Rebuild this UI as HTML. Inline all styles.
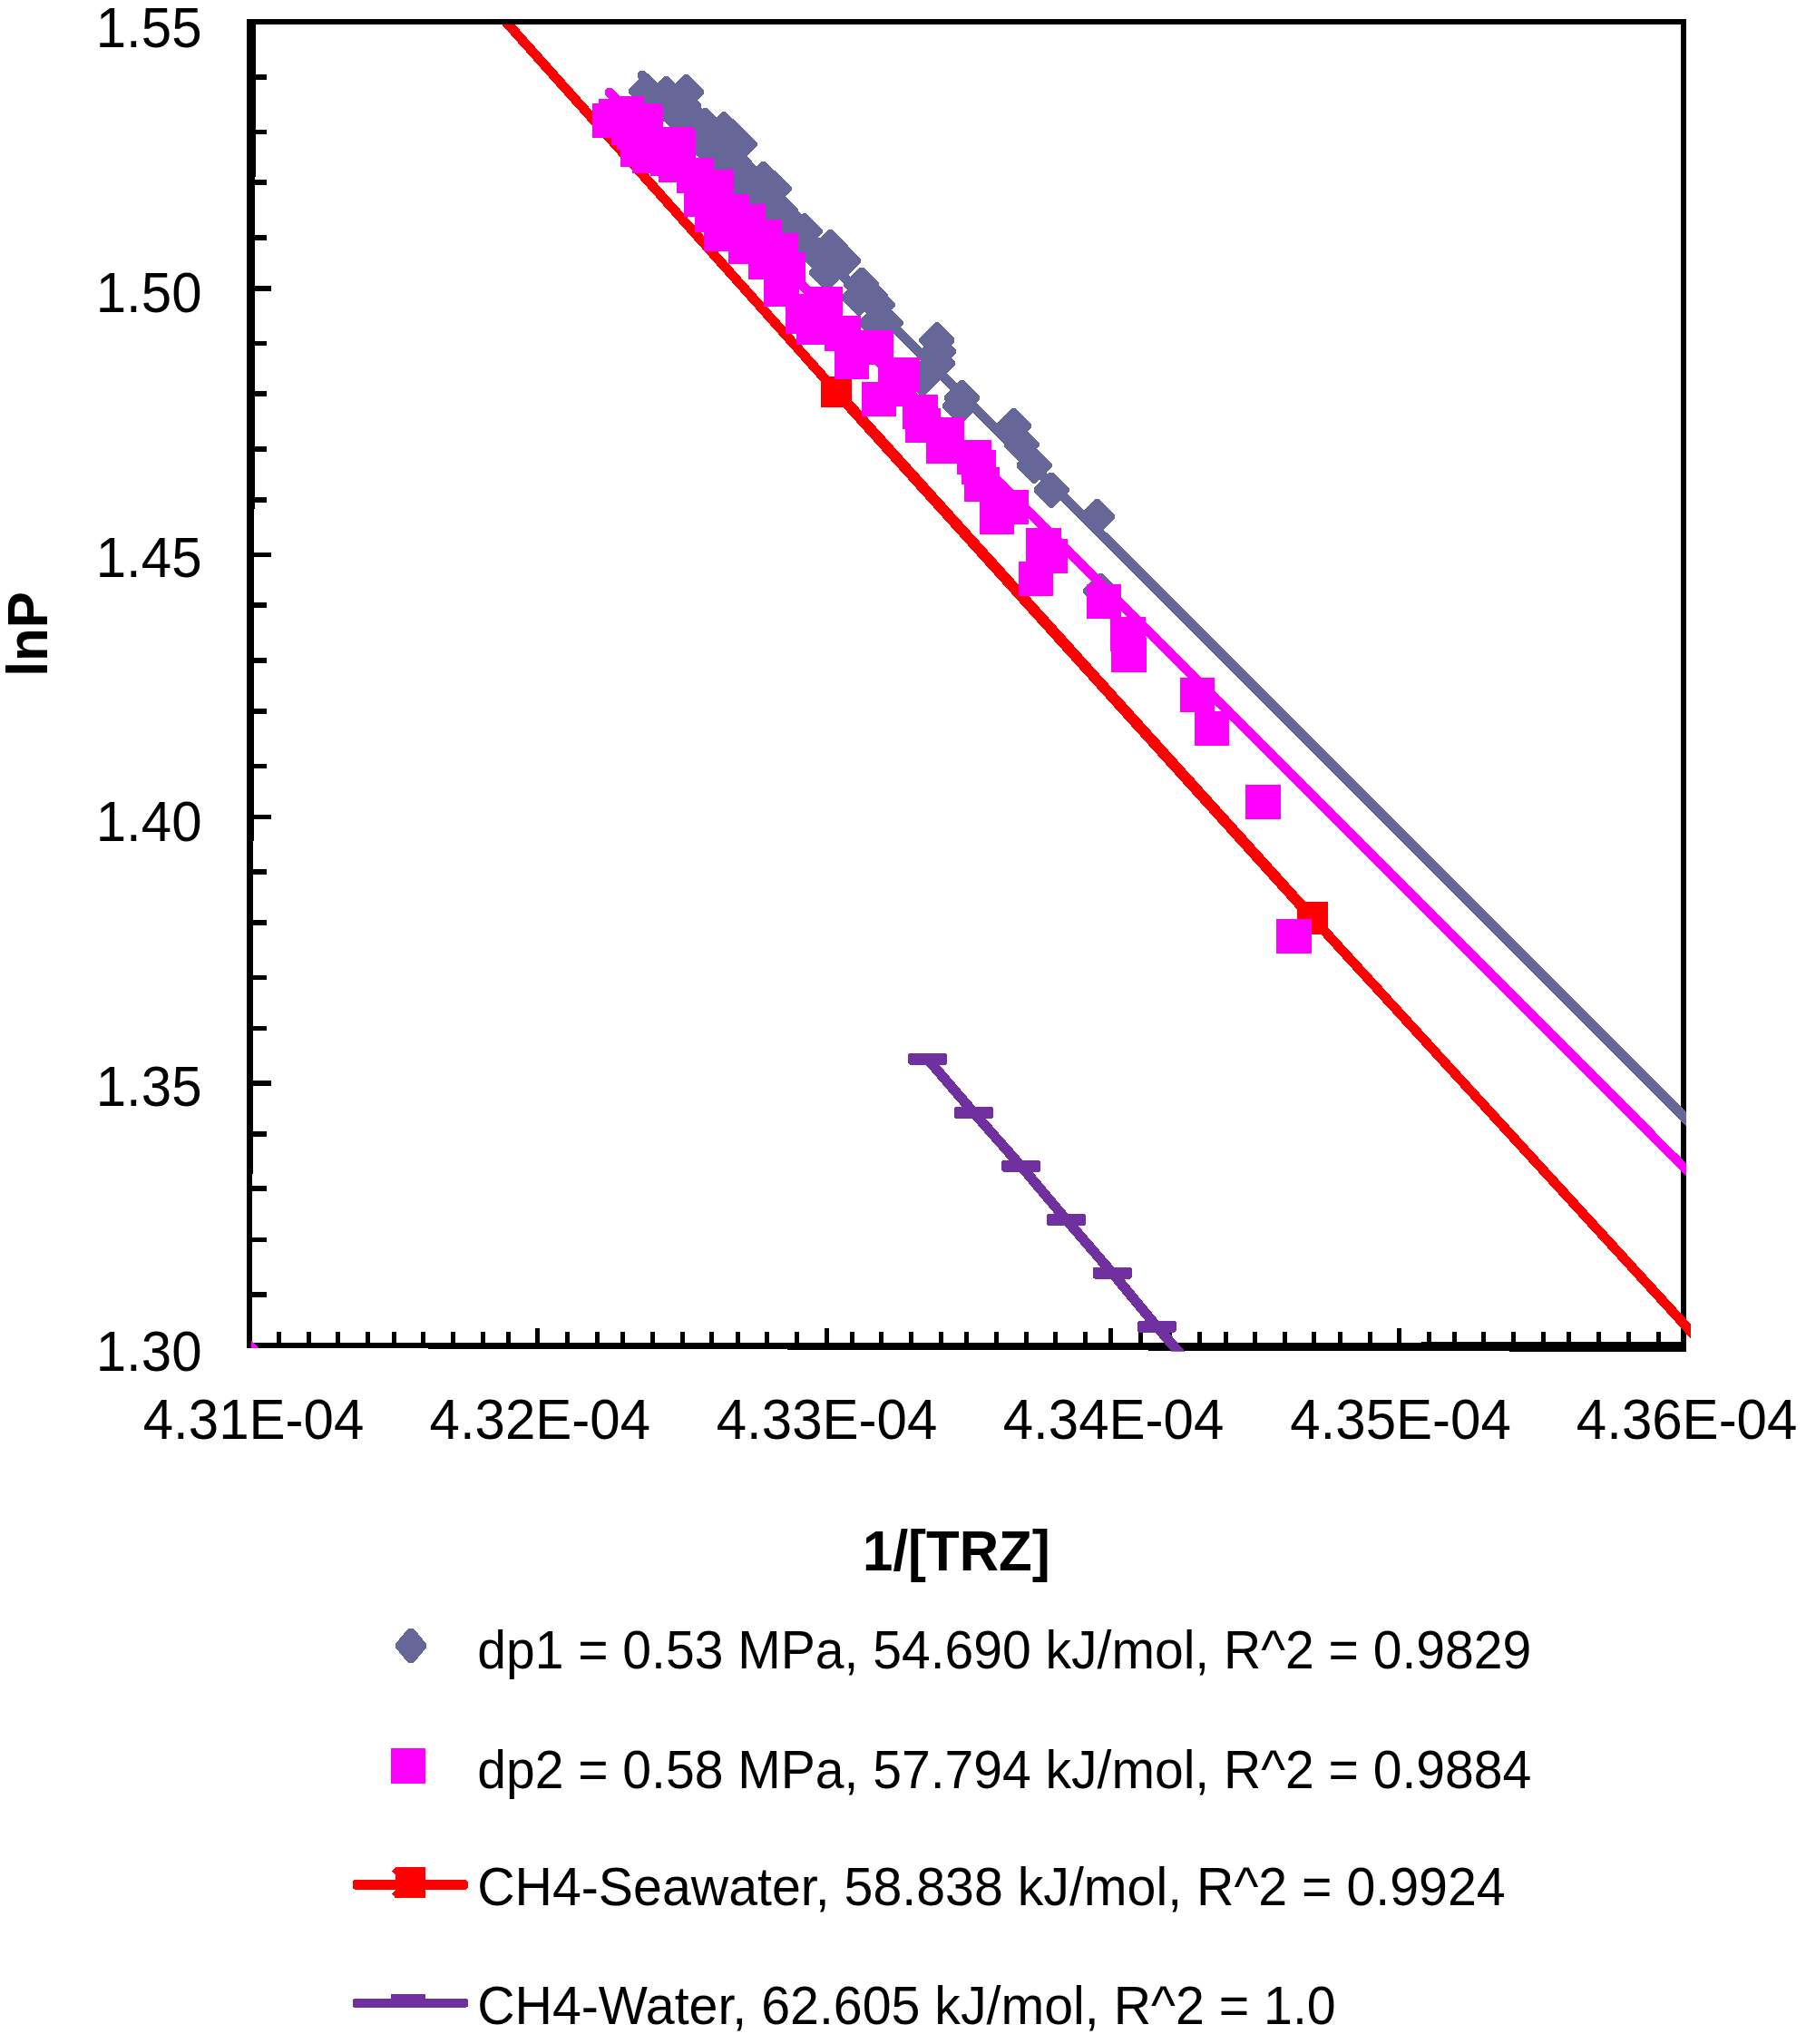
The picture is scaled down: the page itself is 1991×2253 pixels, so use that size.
<!DOCTYPE html>
<html lang="en"><head><meta charset="utf-8"><title>lnP vs 1/[TRZ]</title>
<style>html,body{margin:0;padding:0;background:#fff}svg{display:block}text{font-family:"Liberation Sans",Arial,sans-serif;fill:#000}.ax{font-size:60px}.lg{font-size:56.5px}.b{font-weight:bold;font-size:60px}</style></head><body>
<svg width="1991" height="2253" viewBox="0 0 1991 2253" shape-rendering="crispEdges">
<rect width="1991" height="2253" fill="#fff"/>
<defs><clipPath id="pc"><rect x="272" y="21" width="1592" height="1468.6"/></clipPath><clipPath id="pc2"><rect x="272" y="21" width="1587" height="1468.6"/></clipPath></defs>
<g id="series" clip-path="url(#pc)">
<line x1="550.2" y1="15.6" x2="922" y2="431.5" stroke="#FF0000" stroke-width="10.8"/>
<line x1="922" y1="431.5" x2="1447" y2="1011.9" stroke="#FF0000" stroke-width="12.3"/>
<line x1="1447" y1="1011.9" x2="1880" y2="1485" stroke="#FF0000" stroke-width="10.8"/>
<rect x="905.0" y="414.5" width="34" height="34" fill="#FF0000"/>
<rect x="1430.0" y="993.9" width="34" height="36" fill="#FF0000"/>
<line x1="708" y1="83" x2="1879" y2="1253.5" stroke="#666699" stroke-width="11" stroke-linecap="round" clip-path="url(#pc2)"/>
<polyline points="745,118 775,150 800,175 826,205 845,225 852,248 872,265" fill="none" stroke="#666699" stroke-width="40" stroke-linejoin="round"/>
<path d="M693.1 98.8L710.6 81.3L714.6 81.3L732.1 98.8L732.1 102.8L714.6 120.3L710.6 120.3L693.1 102.8Z" fill="#666699"/>
<path d="M715.3 101.6L732.8 84.1L736.8 84.1L754.3 101.6L754.3 105.6L736.8 123.1L732.8 123.1L715.3 105.6Z" fill="#666699"/>
<path d="M737.0 99.5L754.5 82.0L758.5 82.0L776.0 99.5L776.0 103.5L758.5 121.0L754.5 121.0L737.0 103.5Z" fill="#666699"/>
<path d="M733.9 114.8L751.4 97.3L755.4 97.3L772.9 114.8L772.9 118.8L755.4 136.3L751.4 136.3L733.9 118.8Z" fill="#666699"/>
<path d="M757.9 136.3L775.4 118.8L779.4 118.8L796.9 136.3L796.9 140.3L779.4 157.8L775.4 157.8L757.9 140.3Z" fill="#666699"/>
<path d="M778.6 140.7L796.1 123.2L800.1 123.2L817.6 140.7L817.6 144.7L800.1 162.2L796.1 162.2L778.6 144.7Z" fill="#666699"/>
<path d="M787.0 148.9L804.5 131.4L808.5 131.4L826.0 148.9L826.0 152.9L808.5 170.4L804.5 170.4L787.0 152.9Z" fill="#666699"/>
<path d="M795.7 156.8L813.2 139.3L817.2 139.3L834.7 156.8L834.7 160.8L817.2 178.3L813.2 178.3L795.7 160.8Z" fill="#666699"/>
<path d="M766.7 161.0L784.2 143.5L788.2 143.5L805.7 161.0L805.7 165.0L788.2 182.5L784.2 182.5L766.7 165.0Z" fill="#666699"/>
<path d="M822.3 195.4L839.8 177.9L843.8 177.9L861.3 195.4L861.3 199.4L843.8 216.9L839.8 216.9L822.3 199.4Z" fill="#666699"/>
<path d="M833.6 205.8L851.1 188.3L855.1 188.3L872.6 205.8L872.6 209.8L855.1 227.3L851.1 227.3L833.6 209.8Z" fill="#666699"/>
<path d="M840.8 230.8L858.3 213.3L862.3 213.3L879.8 230.8L879.8 234.8L862.3 252.3L858.3 252.3L840.8 234.8Z" fill="#666699"/>
<path d="M867.5 252.7L885.0 235.2L889.0 235.2L906.5 252.7L906.5 256.7L889.0 274.2L885.0 274.2L867.5 256.7Z" fill="#666699"/>
<path d="M895.8 270.5L913.3 253.0L917.3 253.0L934.8 270.5L934.8 274.5L917.3 292.0L913.3 292.0L895.8 274.5Z" fill="#666699"/>
<path d="M892.0 298.3L909.5 280.8L913.5 280.8L931.0 298.3L931.0 302.3L913.5 319.8L909.5 319.8L892.0 302.3Z" fill="#666699"/>
<path d="M910.0 285.6L927.5 268.1L931.5 268.1L949.0 285.6L949.0 289.6L931.5 307.1L927.5 307.1L910.0 289.6Z" fill="#666699"/>
<path d="M930.3 312.0L947.8 294.5L951.8 294.5L969.3 312.0L969.3 316.0L951.8 333.5L947.8 333.5L930.3 316.0Z" fill="#666699"/>
<path d="M947.7 334.3L965.2 316.8L969.2 316.8L986.7 334.3L986.7 338.3L969.2 355.8L965.2 355.8L947.7 338.3Z" fill="#666699"/>
<path d="M956.6 354.2L974.1 336.7L978.1 336.7L995.6 354.2L995.6 358.2L978.1 375.7L974.1 375.7L956.6 358.2Z" fill="#666699"/>
<path d="M927.9 326.0L945.4 308.5L949.4 308.5L966.9 326.0L966.9 330.0L949.4 347.5L945.4 347.5L927.9 330.0Z" fill="#666699"/>
<path d="M946.3 354.3L963.8 336.8L967.8 336.8L985.3 354.3L985.3 358.3L967.8 375.8L963.8 375.8L946.3 358.3Z" fill="#666699"/>
<path d="M1013.3 372.9L1030.8 355.4L1034.8 355.4L1052.3 372.9L1052.3 376.9L1034.8 394.4L1030.8 394.4L1013.3 376.9Z" fill="#666699"/>
<path d="M1014.6 385.5L1032.1 368.0L1036.1 368.0L1053.6 385.5L1053.6 389.5L1036.1 407.0L1032.1 407.0L1014.6 389.5Z" fill="#666699"/>
<path d="M1013.8 398.8L1031.3 381.3L1035.3 381.3L1052.8 398.8L1052.8 402.8L1035.3 420.3L1031.3 420.3L1013.8 402.8Z" fill="#666699"/>
<path d="M1004.1 408.8L1021.6 391.3L1025.6 391.3L1043.1 408.8L1043.1 412.8L1025.6 430.3L1021.6 430.3L1004.1 412.8Z" fill="#666699"/>
<path d="M997.5 415.4L1015.0 397.9L1019.0 397.9L1036.5 415.4L1036.5 419.4L1019.0 436.9L1015.0 436.9L997.5 419.4Z" fill="#666699"/>
<path d="M1041.3 436.7L1058.8 419.2L1062.8 419.2L1080.3 436.7L1080.3 440.7L1062.8 458.2L1058.8 458.2L1041.3 440.7Z" fill="#666699"/>
<path d="M1039.3 445.6L1056.8 428.1L1060.8 428.1L1078.3 445.6L1078.3 449.6L1060.8 467.1L1056.8 467.1L1039.3 449.6Z" fill="#666699"/>
<path d="M1098.3 467.4L1115.8 449.9L1119.8 449.9L1137.3 467.4L1137.3 471.4L1119.8 488.9L1115.8 488.9L1098.3 471.4Z" fill="#666699"/>
<path d="M1106.6 487.8L1124.1 470.3L1128.1 470.3L1145.6 487.8L1145.6 491.8L1128.1 509.3L1124.1 509.3L1106.6 491.8Z" fill="#666699"/>
<path d="M1120.5 511.1L1138.0 493.6L1142.0 493.6L1159.5 511.1L1159.5 515.1L1142.0 532.6L1138.0 532.6L1120.5 515.1Z" fill="#666699"/>
<path d="M1139.9 538.1L1157.4 520.6L1161.4 520.6L1178.9 538.1L1178.9 542.1L1161.4 559.6L1157.4 559.6L1139.9 542.1Z" fill="#666699"/>
<path d="M1189.9 567.9L1207.4 550.4L1211.4 550.4L1228.9 567.9L1228.9 571.9L1211.4 589.4L1207.4 589.4L1189.9 571.9Z" fill="#666699"/>
<path d="M1194.3 649.5L1211.8 632.0L1215.8 632.0L1233.3 649.5L1233.3 653.5L1215.8 671.0L1211.8 671.0L1194.3 653.5Z" fill="#666699"/>
<path d="M939.7 324.2L957.2 306.7L961.2 306.7L978.7 324.2L978.7 328.2L961.2 345.7L957.2 345.7L939.7 328.2Z" fill="#666699"/>
<path d="M883.0 279.4L900.5 261.9L904.5 261.9L922.0 279.4L922.0 283.4L904.5 300.9L900.5 300.9L883.0 283.4Z" fill="#666699"/>
<path d="M863.7 264.5L881.2 247.0L885.2 247.0L902.7 264.5L902.7 268.5L885.2 286.0L881.2 286.0L863.7 268.5Z" fill="#666699"/>
<path d="M847.0 239.0L864.5 221.5L868.5 221.5L886.0 239.0L886.0 243.0L868.5 260.5L864.5 260.5L847.0 243.0Z" fill="#666699"/>
<path d="M701.4 121.0L718.9 103.5L722.9 103.5L740.4 121.0L740.4 125.0L722.9 142.5L718.9 142.5L701.4 125.0Z" fill="#666699"/>
<line x1="672" y1="102" x2="1879" y2="1309.5" stroke="#FF00FF" stroke-width="10.6" stroke-linecap="round" clip-path="url(#pc2)"/>
<rect x="653.4" y="114.3" width="38.5" height="38" fill="#FF00FF"/>
<rect x="659.5" y="108.6" width="38.5" height="38" fill="#FF00FF"/>
<rect x="671.0" y="105.6" width="38.5" height="38" fill="#FF00FF"/>
<rect x="690.1" y="114.3" width="38.5" height="38" fill="#FF00FF"/>
<rect x="692.1" y="117.6" width="38.5" height="38" fill="#FF00FF"/>
<rect x="725.9" y="139.5" width="38.5" height="38" fill="#FF00FF"/>
<rect x="728.0" y="142.5" width="38.5" height="38" fill="#FF00FF"/>
<rect x="684.4" y="146.2" width="38.5" height="38" fill="#FF00FF"/>
<rect x="696.5" y="152.8" width="38.5" height="38" fill="#FF00FF"/>
<rect x="725.5" y="163.3" width="38.5" height="38" fill="#FF00FF"/>
<rect x="745.5" y="174.9" width="38.5" height="38" fill="#FF00FF"/>
<rect x="748.4" y="173.6" width="38.5" height="38" fill="#FF00FF"/>
<rect x="770.0" y="186.5" width="38.5" height="38" fill="#FF00FF"/>
<rect x="787.0" y="213.6" width="38.5" height="38" fill="#FF00FF"/>
<rect x="753.9" y="201.0" width="38.5" height="38" fill="#FF00FF"/>
<rect x="765.5" y="218.4" width="38.5" height="38" fill="#FF00FF"/>
<rect x="776.2" y="239.2" width="38.5" height="38" fill="#FF00FF"/>
<rect x="805.6" y="224.7" width="38.5" height="38" fill="#FF00FF"/>
<rect x="823.0" y="242.2" width="38.5" height="38" fill="#FF00FF"/>
<rect x="841.0" y="257.4" width="38.5" height="38" fill="#FF00FF"/>
<rect x="849.1" y="277.9" width="38.5" height="38" fill="#FF00FF"/>
<rect x="803.4" y="252.5" width="38.5" height="38" fill="#FF00FF"/>
<rect x="825.2" y="269.9" width="38.5" height="38" fill="#FF00FF"/>
<rect x="842.4" y="299.8" width="38.5" height="38" fill="#FF00FF"/>
<rect x="890.0" y="315.6" width="38.5" height="38" fill="#FF00FF"/>
<rect x="674.1" y="122.1" width="38.5" height="38" fill="#FF00FF"/>
<rect x="680.0" y="127.1" width="38.5" height="38" fill="#FF00FF"/>
<rect x="717.4" y="156.2" width="38.5" height="38" fill="#FF00FF"/>
<rect x="866.2" y="330.4" width="38.5" height="38" fill="#FF00FF"/>
<rect x="878.4" y="342.0" width="38.5" height="38" fill="#FF00FF"/>
<rect x="909.1" y="349.0" width="38.5" height="38" fill="#FF00FF"/>
<rect x="910.0" y="347.5" width="38.5" height="38" fill="#FF00FF"/>
<rect x="946.9" y="364.4" width="38.5" height="38" fill="#FF00FF"/>
<rect x="919.5" y="380.2" width="38.5" height="38" fill="#FF00FF"/>
<rect x="975.9" y="393.7" width="38.5" height="38" fill="#FF00FF"/>
<rect x="949.6" y="420.6" width="38.5" height="38" fill="#FF00FF"/>
<rect x="995.0" y="434.7" width="38.5" height="38" fill="#FF00FF"/>
<rect x="998.0" y="450.0" width="38.5" height="38" fill="#FF00FF"/>
<rect x="1024.0" y="459.6" width="38.5" height="38" fill="#FF00FF"/>
<rect x="1020.8" y="473.2" width="38.5" height="38" fill="#FF00FF"/>
<rect x="1054.8" y="484.5" width="38.5" height="38" fill="#FF00FF"/>
<rect x="1059.8" y="496.2" width="38.5" height="38" fill="#FF00FF"/>
<rect x="1063.2" y="515.2" width="38.5" height="38" fill="#FF00FF"/>
<rect x="1095.0" y="539.7" width="38.5" height="38" fill="#FF00FF"/>
<rect x="1079.5" y="551.1" width="38.5" height="38" fill="#FF00FF"/>
<rect x="1131.2" y="582.4" width="38.5" height="38" fill="#FF00FF"/>
<rect x="1138.0" y="593.8" width="38.5" height="38" fill="#FF00FF"/>
<rect x="1122.5" y="618.9" width="38.5" height="38" fill="#FF00FF"/>
<rect x="1197.8" y="643.8" width="38.5" height="38" fill="#FF00FF"/>
<rect x="1224.2" y="679.9" width="38.5" height="38" fill="#FF00FF"/>
<rect x="1225.0" y="702.8" width="38.5" height="38" fill="#FF00FF"/>
<rect x="1300.8" y="746.8" width="38.5" height="38" fill="#FF00FF"/>
<rect x="1316.8" y="783.8" width="38.5" height="38" fill="#FF00FF"/>
<rect x="1373.2" y="864.9" width="38.5" height="38" fill="#FF00FF"/>
<rect x="1407.2" y="1012.8" width="38.5" height="38" fill="#FF00FF"/>
<rect x="968.2" y="394.0" width="38.5" height="38" fill="#FF00FF"/>
<rect x="873.8" y="323.9" width="38.5" height="38" fill="#FF00FF"/>
<rect x="970.8" y="410.2" width="38.5" height="38" fill="#FF00FF"/>
<polyline points="1021,1165.4 1022.6,1167.3 1073.5,1226.4 1125.6,1285.3 1175.6,1344.5 1226.3,1403.2 1275.4,1462.3 1304.5,1496" fill="none" stroke="#7030A0" stroke-width="11.3"/>
<rect x="1001.4" y="1161.0" width="42.4" height="12.6" rx="1.5" fill="#7030A0"/>
<rect x="1052.3" y="1220.1" width="42.4" height="12.6" rx="1.5" fill="#7030A0"/>
<rect x="1104.4" y="1279.0" width="42.4" height="12.6" rx="1.5" fill="#7030A0"/>
<rect x="1154.4" y="1338.2" width="42.4" height="12.6" rx="1.5" fill="#7030A0"/>
<rect x="1205.1" y="1396.9" width="42.4" height="12.6" rx="1.5" fill="#7030A0"/>
<rect x="1254.2" y="1456.0" width="42.4" height="12.6" rx="1.5" fill="#7030A0"/>
</g>
<g id="axes" fill="#000">
<polygon points="272,21 282,21 278,1486 272,1486"/>
<rect x="272" y="21" width="1587" height="6"/>
<rect x="1853" y="21" width="6" height="1468"/>
<polygon points="272,1480 1859,1479.4 1859,1490 272,1486"/>
<rect x="276" y="81.9" width="18" height="5.6"/>
<rect x="276" y="142.7" width="18" height="5.6"/>
<rect x="276" y="198.2" width="18" height="5.6"/>
<rect x="276" y="259.0" width="18" height="5.6"/>
<rect x="276" y="375.6" width="18" height="5.6"/>
<rect x="276" y="431.1" width="18" height="5.6"/>
<rect x="276" y="492.1" width="18" height="5.6"/>
<rect x="276" y="548.1" width="18" height="5.6"/>
<rect x="276" y="663.9" width="18" height="5.6"/>
<rect x="276" y="725.0" width="18" height="5.6"/>
<rect x="276" y="781.0" width="18" height="5.6"/>
<rect x="276" y="841.6" width="18" height="5.6"/>
<rect x="276" y="958.1" width="18" height="5.6"/>
<rect x="276" y="1014.0" width="18" height="5.6"/>
<rect x="276" y="1074.5" width="18" height="5.6"/>
<rect x="276" y="1130.7" width="18" height="5.6"/>
<rect x="276" y="1247.1" width="18" height="5.6"/>
<rect x="276" y="1307.4" width="18" height="5.6"/>
<rect x="276" y="1363.5" width="18" height="5.6"/>
<rect x="276" y="1424.0" width="18" height="5.6"/>
<rect x="276" y="315.2" width="23" height="5.6"/>
<rect x="276" y="608.6" width="23" height="5.6"/>
<rect x="276" y="897.6" width="23" height="5.6"/>
<rect x="276" y="1190.9" width="23" height="5.6"/>
<rect x="304.8" y="1468" width="5" height="14"/>
<rect x="337.7" y="1468" width="5" height="14"/>
<rect x="370.3" y="1468" width="5" height="14"/>
<rect x="403.2" y="1468" width="5" height="14"/>
<rect x="431.5" y="1468" width="5" height="14"/>
<rect x="464.1" y="1468" width="5" height="14"/>
<rect x="496.6" y="1468" width="5" height="14"/>
<rect x="529.6" y="1468" width="5" height="14"/>
<rect x="557.9" y="1468" width="5" height="14"/>
<rect x="590.4" y="1464" width="5" height="18"/>
<rect x="623.0" y="1468" width="5" height="14"/>
<rect x="655.9" y="1468" width="5" height="14"/>
<rect x="684.2" y="1468" width="5" height="14"/>
<rect x="716.8" y="1468" width="5" height="14"/>
<rect x="749.7" y="1468" width="5" height="14"/>
<rect x="782.3" y="1468" width="5" height="14"/>
<rect x="810.6" y="1468" width="5" height="14"/>
<rect x="843.2" y="1468" width="5" height="14"/>
<rect x="875.7" y="1468" width="5" height="14"/>
<rect x="908.7" y="1464" width="5" height="18"/>
<rect x="936.8" y="1468" width="5" height="14"/>
<rect x="969.2" y="1468" width="5" height="14"/>
<rect x="1002.2" y="1468" width="5" height="14"/>
<rect x="1034.7" y="1468" width="5" height="14"/>
<rect x="1063.0" y="1468" width="5" height="14"/>
<rect x="1095.6" y="1468" width="5" height="14"/>
<rect x="1128.5" y="1468" width="5" height="14"/>
<rect x="1161.1" y="1468" width="5" height="14"/>
<rect x="1193.6" y="1468" width="5" height="14"/>
<rect x="1222.3" y="1464" width="5" height="18"/>
<rect x="1254.9" y="1468" width="5" height="14"/>
<rect x="1287.4" y="1468" width="5" height="14"/>
<rect x="1320.0" y="1468" width="5" height="14"/>
<rect x="1348.7" y="1468" width="5" height="14"/>
<rect x="1381.2" y="1468" width="5" height="14"/>
<rect x="1413.8" y="1468" width="5" height="14"/>
<rect x="1446.3" y="1468" width="5" height="14"/>
<rect x="1475.0" y="1468" width="5" height="14"/>
<rect x="1507.7" y="1468" width="5" height="14"/>
<rect x="1540.3" y="1464" width="5" height="18"/>
<rect x="1573.1" y="1468" width="5" height="14"/>
<rect x="1600.8" y="1468" width="5" height="14"/>
<rect x="1633.4" y="1468" width="5" height="14"/>
<rect x="1666.1" y="1468" width="5" height="14"/>
<rect x="1699.2" y="1468" width="5" height="14"/>
<rect x="1727.2" y="1468" width="5" height="14"/>
<rect x="1759.9" y="1468" width="5" height="14"/>
<rect x="1792.5" y="1468" width="5" height="14"/>
<rect x="1825.7" y="1468" width="5" height="14"/>
<polygon points="277,1477.5 285.5,1486 277,1486" fill="#FF00FF"/>
</g>
<g clip-path="url(#pc)">
<line x1="1840" y1="1214.5" x2="1879" y2="1253.5" stroke="#666699" stroke-width="11" clip-path="url(#pc2)"/>
<line x1="1840" y1="1270.5" x2="1879" y2="1309.5" stroke="#FF00FF" stroke-width="10.6" clip-path="url(#pc2)"/>
<polyline points="1800,1397.6 1880,1485" fill="none" stroke="#FF0000" stroke-width="10.8"/>
<polyline points="1226.3,1403.2 1275.4,1462.3 1304.5,1496" fill="none" stroke="#7030A0" stroke-width="11.3"/>
<rect x="1254.2" y="1456.0" width="42.4" height="12.6" rx="1.5" fill="#7030A0"/>
</g>
<g id="labels">
<text class="ax" transform="translate(222.5,52.4) scale(1,1.042)" text-anchor="end">1.55</text>
<text class="ax" transform="translate(222.5,343.8) scale(1,1.042)" text-anchor="end">1.50</text>
<text class="ax" transform="translate(222.5,635.7) scale(1,1.042)" text-anchor="end">1.45</text>
<text class="ax" transform="translate(222.5,926.7) scale(1,1.042)" text-anchor="end">1.40</text>
<text class="ax" transform="translate(222.5,1219) scale(1,1.042)" text-anchor="end">1.35</text>
<text class="ax" transform="translate(222.5,1511) scale(1,1.042)" text-anchor="end">1.30</text>
<text class="ax" transform="translate(279.5,1585.5) scale(1,1.042)" text-anchor="middle">4.31E-04</text>
<text class="ax" transform="translate(595.3,1585.5) scale(1,1.042)" text-anchor="middle">4.32E-04</text>
<text class="ax" transform="translate(911.5,1585.5) scale(1,1.042)" text-anchor="middle">4.33E-04</text>
<text class="ax" transform="translate(1227.5,1585.5) scale(1,1.042)" text-anchor="middle">4.34E-04</text>
<text class="ax" transform="translate(1544,1585.5) scale(1,1.042)" text-anchor="middle">4.35E-04</text>
<text class="ax" transform="translate(1859.6,1585.5) scale(1,1.042)" text-anchor="middle">4.36E-04</text>
<text class="b" transform="translate(51.9,699) rotate(-90) scale(1,1.042)" text-anchor="middle">lnP</text>
<text class="b" transform="translate(1054.4,1730.7) scale(1,1.042)" text-anchor="middle">1/[TRZ]</text>
</g>
<g id="legend">
<path d="M435.8 1812L450.2 1794.9L455.8 1794.9L470.2 1812L470.2 1816L455.8 1833.1L450.2 1833.1L435.8 1816Z" fill="#666699"/>
<rect x="431.1" y="1927" width="38" height="39" rx="1.5" fill="#FF00FF"/>
<rect x="388.7" y="2071.9" width="127.4" height="11" rx="4" fill="#FF0000"/>
<path d="M436 2058H469.1V2092.1H436L431.9 2087.5L436 2083V2067L431.9 2062.5Z" fill="#FF0000"/>
<rect x="388.7" y="2202.9" width="127.4" height="10" rx="3.5" fill="#7030A0"/>
<rect x="431.1" y="2198" width="38" height="10" rx="1" fill="#7030A0"/>
<text class="lg" style="font-size:57.05px" transform="translate(526.2,1838.7) scale(1,1.042)">dp1 = 0.53 MPa, 54.690 kJ/mol, R^2 = 0.9829</text>
<text class="lg" style="font-size:57.05px" transform="translate(526.2,1971.2) scale(1,1.042)">dp2 = 0.58 MPa, 57.794 kJ/mol, R^2 = 0.9884</text>
<text class="lg" style="font-size:57.3px" transform="translate(526.2,2099.8) scale(1,1.042)">CH4-Seawater, 58.838 kJ/mol, R^2 = 0.9924</text>
<text class="lg" style="font-size:57.3px" transform="translate(526.2,2230.5) scale(1,1.042)">CH4-Water, 62.605 kJ/mol, R^2 = 1.0</text>
</g>
</svg></body></html>
